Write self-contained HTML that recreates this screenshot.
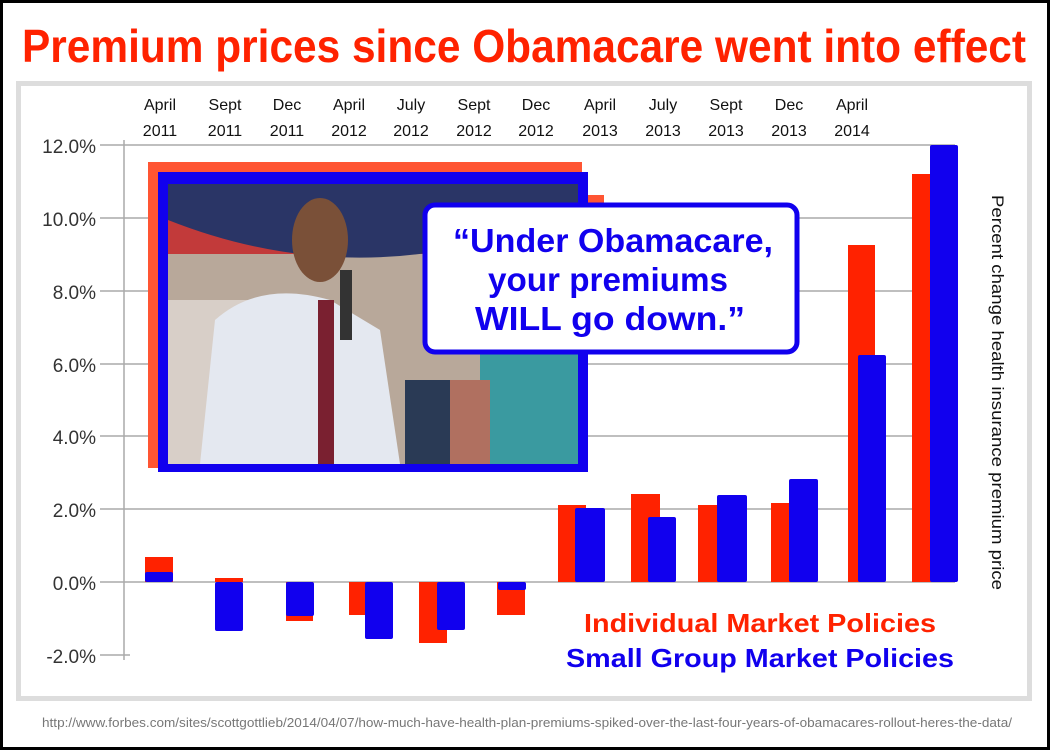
<!DOCTYPE html>
<html><head><style>
html,body{margin:0;padding:0;background:#000;}
svg{display:block;}
</style></head><body>
<svg width="1050" height="750" viewBox="0 0 1050 750" xmlns="http://www.w3.org/2000/svg" font-family="Liberation Sans, sans-serif">
<rect x="3" y="3" width="1044" height="744" fill="#fff"/>
<text x="524" y="62" text-anchor="middle" font-size="46" font-weight="bold" fill="#ff2200" textLength="1004" lengthAdjust="spacingAndGlyphs">Premium prices since Obamacare went into effect</text>
<rect x="18.5" y="83.5" width="1011" height="615" fill="#fff" stroke="#ddd" stroke-width="5"/>
<g stroke="#aaa" stroke-width="1.5">
<line x1="100" y1="145" x2="955" y2="145"/>
<line x1="100" y1="218" x2="955" y2="218"/>
<line x1="100" y1="291" x2="955" y2="291"/>
<line x1="100" y1="364" x2="955" y2="364"/>
<line x1="100" y1="436" x2="955" y2="436"/>
<line x1="100" y1="509" x2="955" y2="509"/>
<line x1="100" y1="582" x2="955" y2="582"/>
<line x1="100" y1="655" x2="130" y2="655"/>
<line x1="124" y1="140" x2="124" y2="660"/>
</g>
<g font-size="19" fill="#333" text-anchor="end">
<text x="96" y="153">12.0%</text><text x="96" y="226">10.0%</text><text x="96" y="299">8.0%</text>
<text x="96" y="372">6.0%</text><text x="96" y="444">4.0%</text><text x="96" y="517">2.0%</text>
<text x="96" y="590">0.0%</text><text x="96" y="663">-2.0%</text>
</g>
<g font-size="16" fill="#111" text-anchor="middle">
<text x="160" y="110">April</text><text x="160" y="136">2011</text>
<text x="225" y="110">Sept</text><text x="225" y="136">2011</text>
<text x="287" y="110">Dec</text><text x="287" y="136">2011</text>
<text x="349" y="110">April</text><text x="349" y="136">2012</text>
<text x="411" y="110">July</text><text x="411" y="136">2012</text>
<text x="474" y="110">Sept</text><text x="474" y="136">2012</text>
<text x="536" y="110">Dec</text><text x="536" y="136">2012</text>
<text x="600" y="110">April</text><text x="600" y="136">2013</text>
<text x="663" y="110">July</text><text x="663" y="136">2013</text>
<text x="726" y="110">Sept</text><text x="726" y="136">2013</text>
<text x="789" y="110">Dec</text><text x="789" y="136">2013</text>
<text x="852" y="110">April</text><text x="852" y="136">2014</text>
</g>
<g fill="#ff2200">
<rect x="145" y="557" width="28" height="25"/>
<rect x="215" y="578" width="28" height="4"/>
<rect x="286" y="582" width="27" height="39"/>
<rect x="349" y="582" width="17" height="33"/>
<rect x="419" y="582" width="28" height="61"/>
<rect x="497" y="582" width="28" height="33"/>
<rect x="558" y="505" width="28" height="77"/>
<rect x="631" y="494" width="29" height="88"/>
<rect x="698" y="505" width="28" height="77"/>
<rect x="771" y="503" width="27" height="79"/>
<rect x="848" y="245" width="27" height="337"/>
<rect x="912" y="174" width="24" height="408"/>
</g>
<g fill="#1100ee">
<rect x="145" y="572" width="28" height="10" rx="2"/>
<rect x="215" y="582" width="28" height="49" rx="2"/>
<rect x="286" y="582" width="28" height="34" rx="2"/>
<rect x="365" y="582" width="28" height="57" rx="2"/>
<rect x="437" y="582" width="28" height="48" rx="2"/>
<rect x="498" y="582" width="28" height="8" rx="2"/>
<rect x="575" y="508" width="30" height="74" rx="2"/>
<rect x="648" y="517" width="28" height="65" rx="2"/>
<rect x="717" y="495" width="30" height="87" rx="2"/>
<rect x="789" y="479" width="29" height="103" rx="2"/>
<rect x="858" y="355" width="28" height="227" rx="2"/>
<rect x="930" y="145" width="28" height="437" rx="2"/>
</g>
<text transform="translate(992,195) rotate(90)" font-size="17" fill="#111" textLength="395" lengthAdjust="spacingAndGlyphs">Percent change health insurance premium price</text>
<rect x="148" y="162" width="434" height="306" fill="#ff5533"/>
<rect x="582" y="195" width="22" height="40" fill="#ff5533"/>
<rect x="158" y="172" width="430" height="300" fill="#1100ee"/>
<rect x="168" y="184" width="410" height="280" fill="#b8a89a"/>
<rect x="168" y="184" width="410" height="70" fill="#c23a3a"/>
<path d="M168 184 L578 184 L578 210 Q370 300 168 220 Z" fill="#2a3566"/>
<rect x="168" y="300" width="80" height="164" fill="#d8cfc8"/>
<rect x="480" y="350" width="98" height="114" fill="#3a9aa0"/>
<rect x="430" y="380" width="60" height="84" fill="#b07060"/>
<path d="M200 464 L215 320 Q260 280 330 300 L380 330 L400 464 Z" fill="#e4e8f0"/>
<rect x="318" y="300" width="16" height="164" fill="#7a2030"/>
<ellipse cx="320" cy="240" rx="28" ry="42" fill="#7a5038"/>
<rect x="340" y="270" width="12" height="70" fill="#333"/>
<rect x="405" y="380" width="45" height="84" fill="#2a3a55"/>
<rect x="425" y="205" width="372" height="147" rx="10" fill="#fff" stroke="#1100ee" stroke-width="5"/>
<g font-size="33" font-weight="bold" fill="#1100ee" text-anchor="middle">
<text x="613" y="252" textLength="320" lengthAdjust="spacingAndGlyphs">“Under Obamacare,</text>
<text x="608" y="291" textLength="240" lengthAdjust="spacingAndGlyphs">your premiums</text>
<text x="610" y="330" textLength="270" lengthAdjust="spacingAndGlyphs">WILL go down.”</text>
</g>
<text x="760" y="632" text-anchor="middle" font-size="26" font-weight="bold" fill="#ff2200" textLength="352" lengthAdjust="spacingAndGlyphs">Individual Market Policies</text>
<text x="760" y="667" text-anchor="middle" font-size="26" font-weight="bold" fill="#1100ee" textLength="388" lengthAdjust="spacingAndGlyphs">Small Group Market Policies</text>
<text x="527" y="727" text-anchor="middle" font-size="13" fill="#777" textLength="970" lengthAdjust="spacingAndGlyphs">http://www.forbes.com/sites/scottgottlieb/2014/04/07/how-much-have-health-plan-premiums-spiked-over-the-last-four-years-of-obamacares-rollout-heres-the-data/</text>
</svg>
</body></html>
